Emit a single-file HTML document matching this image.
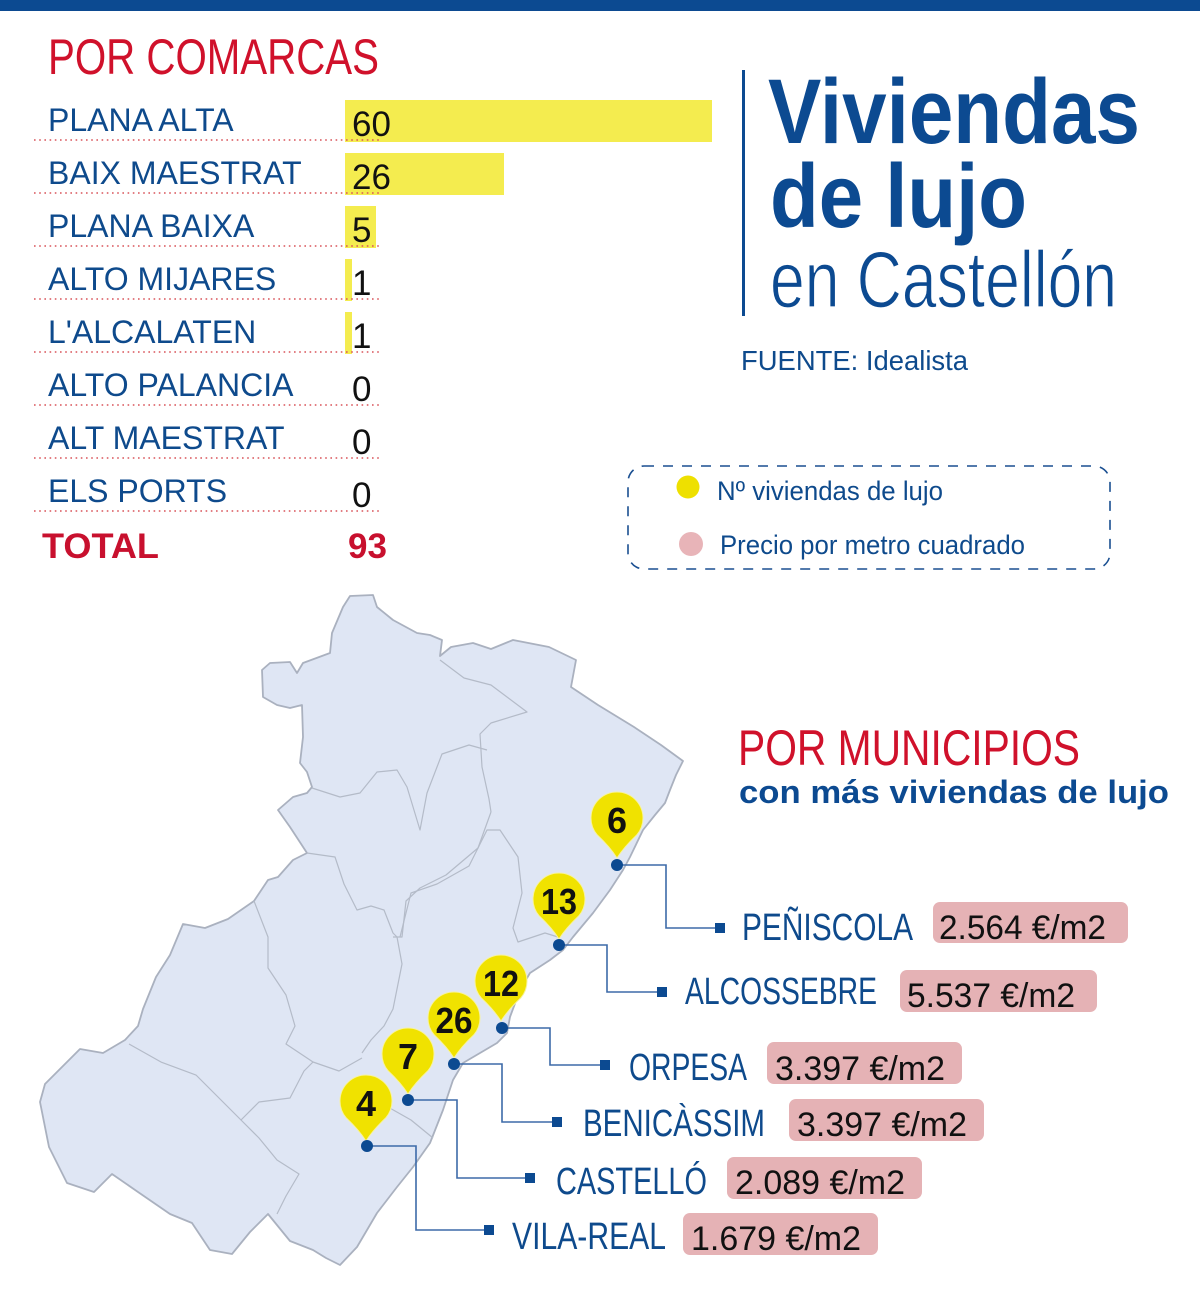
<!DOCTYPE html>
<html>
<head>
<meta charset="utf-8">
<style>
html,body{margin:0;padding:0;background:#fff;}
body{width:1200px;height:1293px;overflow:hidden;}
svg{display:block;}
text{font-family:"Liberation Sans",sans-serif;}
</style>
</head>
<body>
<svg width="1200" height="1293" viewBox="0 0 1200 1293" xmlns="http://www.w3.org/2000/svg">
  <!-- top band -->
  <rect x="0" y="0" width="1200" height="11" fill="#0c4a91"/>

  <!-- POR COMARCAS -->
  <text x="48" y="74" font-size="50" fill="#d0112b" textLength="331" lengthAdjust="spacingAndGlyphs">POR COMARCAS</text>

  <!-- bars -->
  <g fill="#f4ec4f">
    <rect x="345" y="100" width="367" height="42"/>
    <rect x="345" y="153" width="159" height="42"/>
    <rect x="345" y="206" width="31" height="42"/>
    <rect x="345" y="259" width="7" height="42"/>
    <rect x="345" y="312" width="7" height="42"/>
  </g>

  <!-- dotted lines -->
  <g stroke="#d9545a" stroke-width="1.6" stroke-dasharray="1.6 3.6">
    <line x1="34" y1="140" x2="382" y2="140"/>
    <line x1="34" y1="193" x2="382" y2="193"/>
    <line x1="34" y1="246" x2="382" y2="246"/>
    <line x1="34" y1="299" x2="382" y2="299"/>
    <line x1="34" y1="352" x2="382" y2="352"/>
    <line x1="34" y1="405" x2="382" y2="405"/>
    <line x1="34" y1="458" x2="382" y2="458"/>
    <line x1="34" y1="511" x2="382" y2="511"/>
  </g>

  <!-- row labels -->
  <g font-size="32" fill="#0e4a8c">
    <text x="48" y="131">PLANA ALTA</text>
    <text x="48" y="184">BAIX MAESTRAT</text>
    <text x="48" y="237">PLANA BAIXA</text>
    <text x="48" y="290">ALTO MIJARES</text>
    <text x="48" y="343">L'ALCALATEN</text>
    <text x="48" y="396">ALTO PALANCIA</text>
    <text x="48" y="449">ALT MAESTRAT</text>
    <text x="48" y="502">ELS PORTS</text>
  </g>
  <g font-size="35" fill="#111">
    <text x="352" y="136">60</text>
    <text x="352" y="189">26</text>
    <text x="352" y="242">5</text>
    <text x="352" y="295">1</text>
    <text x="352" y="348">1</text>
    <text x="352" y="401">0</text>
    <text x="352" y="454">0</text>
    <text x="352" y="507">0</text>
  </g>
  <text x="42" y="558" font-size="35" font-weight="bold" fill="#c8102e" textLength="117" lengthAdjust="spacingAndGlyphs">TOTAL</text>
  <text x="348" y="558" font-size="35" font-weight="bold" fill="#c8102e">93</text>

  <!-- Title -->
  <rect x="742" y="70" width="3" height="246" fill="#0c4a91"/>
  <text x="768" y="143" font-size="92" font-weight="bold" fill="#0c4a91" textLength="372" lengthAdjust="spacingAndGlyphs">Viviendas</text>
  <text x="770" y="227" font-size="90" font-weight="bold" fill="#0c4a91" textLength="257" lengthAdjust="spacingAndGlyphs">de lujo</text>
  <text x="770" y="307" font-size="80" fill="#0c4a91" stroke="#ffffff" stroke-width="1.2" textLength="347" lengthAdjust="spacingAndGlyphs">en Castellón</text>
  <text x="741" y="370" font-size="28" fill="#0e4a8c" textLength="227" lengthAdjust="spacingAndGlyphs">FUENTE: Idealista</text>

  <!-- Legend -->
  <rect x="628" y="466" width="482" height="103" rx="16" ry="16" fill="none" stroke="#1a4f91" stroke-width="1.6" stroke-dasharray="10 9"/>
  <circle cx="688" cy="487" r="11.5" fill="#eee000"/>
  <circle cx="691" cy="544" r="12" fill="#e8b4b8"/>
  <text x="717" y="500" font-size="27" fill="#0e4a8c" textLength="226" lengthAdjust="spacingAndGlyphs">Nº viviendas de lujo</text>
  <text x="720" y="554" font-size="27" fill="#0e4a8c" textLength="305" lengthAdjust="spacingAndGlyphs">Precio por metro cuadrado</text>

  <!-- Map -->
  <path d="M350,596 L373,595 L377,607 L393,620 L417,633 L430,635 L442,640 L440,656 L451,647 L473,643 L491,649 L513,640 L549,647 L576,660 L571,687 L598,705 L634,727 L661,745 L683,761 L676,775 L670,790 L665,803 L655,815 L643,830 L630,857 L623,870 L610,890 L593,913 L573,937 L563,950 L550,960 L530,973 L520,990 L510,1017 L507,1033 L497,1043 L480,1053 L463,1063 L453,1080 L443,1110 L430,1143 L413,1167 L397,1187 L377,1213 L357,1247 L340,1265 L326,1258 L313,1250 L290,1241 L268,1214 L250,1232 L232,1254 L210,1250 L192,1223 L170,1214 L138,1192 L112,1174 L94,1192 L67,1183 L49,1147 L40,1102 L45,1084 L58,1071 L80,1049 L103,1053 L125,1040 L138,1026 L143,1009 L156,977 L170,955 L183,924 L205,928 L228,919 L254,901 L268,880 L278,877 L293,860 L307,853 L290,827 L278,810 L293,797 L307,793 L312,787 L307,772 L300,763 L303,737 L302,705 L290,708 L277,705 L263,697 L262,670 L270,663 L290,662 L297,673 L303,663 L330,653 L332,633 L343,607 Z" fill="#dfe6f4" stroke="#aab1bf" stroke-width="1.8" stroke-linejoin="round"/>
  <g fill="none" stroke="#b4bbc8" stroke-width="1.2" stroke-linejoin="round">
    <polyline points="440,660 464,678 491,685 527,712 491,723 480,734 482,767 489,799 491,812"/>
    <polyline points="491,812 478,848 446,875 420,888 406,901 402,937 393,937"/>
    <polyline points="312,788 340,797 360,793 377,772 397,770 407,787 420,830 427,793 442,754 469,745 487,750"/>
    <polyline points="307,853 335,857 344,884 357,910 371,906 384,910 393,933 397,937"/>
    <polyline points="397,937 402,964 393,1009 384,1026 371,1040 362,1053"/>
    <polyline points="400,937 411,893 437,884 469,866 487,830 500,830 518,857 522,893 513,928 518,942 545,933 558,937"/>
    <polyline points="254,901 268,937 268,968 286,995 295,1026 286,1044 313,1062 339,1071 362,1058"/>
    <polyline points="129,1044 161,1062 196,1075 214,1093 228,1107 241,1120 259,1102 290,1098 304,1071 313,1062"/>
    <polyline points="241,1120 259,1138 277,1160 299,1174 286,1196 277,1214"/>
    <polyline points="388,1107 411,1120 433,1138"/>
  </g>

  <!-- connectors -->
  <g fill="none" stroke="#3d6aa8" stroke-width="1.6">
    <polyline points="617,865 666,865 666,928 720,928"/>
    <polyline points="559,945 607,945 607,992 662,992"/>
    <polyline points="502,1028 550,1028 550,1065 605,1065"/>
    <polyline points="454,1064 502,1064 502,1122 557,1122"/>
    <polyline points="408,1100 457,1100 457,1178 530,1178"/>
    <polyline points="367,1146 416,1146 416,1230 489,1230"/>
  </g>
  <g fill="#0c4a91">
    <rect x="715" y="923" width="10" height="10"/>
    <rect x="657" y="987" width="10" height="10"/>
    <rect x="600" y="1060" width="10" height="10"/>
    <rect x="552" y="1117" width="10" height="10"/>
    <rect x="525" y="1173" width="10" height="10"/>
    <rect x="484" y="1225" width="10" height="10"/>
  </g>

  <!-- pins -->
  <g>
    <g transform="translate(617,818)">
      <path d="M0,40 Q-7,29 -19.8,16.9 A26,26 0 1 1 19.8,16.9 Q7,29 0,40 Z" fill="#f0e200" stroke="#f7f3a0" stroke-width="1"/>
      <text x="0" y="15" font-size="36" font-weight="bold" fill="#111" text-anchor="middle">6</text>
    </g>
    <g transform="translate(559,899)">
      <path d="M0,40 Q-7,29 -19.8,16.9 A26,26 0 1 1 19.8,16.9 Q7,29 0,40 Z" fill="#f0e200" stroke="#f7f3a0" stroke-width="1"/>
      <text x="0" y="15" font-size="36" font-weight="bold" fill="#111" text-anchor="middle" textLength="36" lengthAdjust="spacingAndGlyphs">13</text>
    </g>
    <g transform="translate(501,981)">
      <path d="M0,40 Q-7,29 -19.8,16.9 A26,26 0 1 1 19.8,16.9 Q7,29 0,40 Z" fill="#f0e200" stroke="#f7f3a0" stroke-width="1"/>
      <text x="0" y="15" font-size="36" font-weight="bold" fill="#111" text-anchor="middle" textLength="36" lengthAdjust="spacingAndGlyphs">12</text>
    </g>
    <g transform="translate(454,1018)">
      <path d="M0,40 Q-7,29 -19.8,16.9 A26,26 0 1 1 19.8,16.9 Q7,29 0,40 Z" fill="#f0e200" stroke="#f7f3a0" stroke-width="1"/>
      <text x="0" y="15" font-size="36" font-weight="bold" fill="#111" text-anchor="middle" textLength="37" lengthAdjust="spacingAndGlyphs">26</text>
    </g>
    <g transform="translate(408,1054)">
      <path d="M0,40 Q-7,29 -19.8,16.9 A26,26 0 1 1 19.8,16.9 Q7,29 0,40 Z" fill="#f0e200" stroke="#f7f3a0" stroke-width="1"/>
      <text x="0" y="15" font-size="36" font-weight="bold" fill="#111" text-anchor="middle">7</text>
    </g>
    <g transform="translate(366,1101)">
      <path d="M0,40 Q-7,29 -19.8,16.9 A26,26 0 1 1 19.8,16.9 Q7,29 0,40 Z" fill="#f0e200" stroke="#f7f3a0" stroke-width="1"/>
      <text x="0" y="15" font-size="36" font-weight="bold" fill="#111" text-anchor="middle">4</text>
    </g>
  </g>
  <g fill="#0c4a91">
    <circle cx="617" cy="865" r="6"/>
    <circle cx="559" cy="945" r="6"/>
    <circle cx="502" cy="1028" r="6"/>
    <circle cx="454" cy="1064" r="6"/>
    <circle cx="408" cy="1100" r="6"/>
    <circle cx="367" cy="1146" r="6"/>
  </g>

  <!-- POR MUNICIPIOS -->
  <text x="738" y="765" font-size="50" fill="#d0112b" textLength="342" lengthAdjust="spacingAndGlyphs">POR MUNICIPIOS</text>
  <text x="739" y="803" font-size="32" font-weight="bold" fill="#0c4a91" textLength="430" lengthAdjust="spacingAndGlyphs">con más viviendas de lujo</text>

  <!-- municipality labels -->
  <g font-size="38" fill="#0e4a8c">
    <text x="742" y="940" textLength="171" lengthAdjust="spacingAndGlyphs">PEÑISCOLA</text>
    <text x="685" y="1004" textLength="192" lengthAdjust="spacingAndGlyphs">ALCOSSEBRE</text>
    <text x="629" y="1080" textLength="118" lengthAdjust="spacingAndGlyphs">ORPESA</text>
    <text x="583" y="1136" textLength="182" lengthAdjust="spacingAndGlyphs">BENICÀSSIM</text>
    <text x="556" y="1194" textLength="151" lengthAdjust="spacingAndGlyphs">CASTELLÓ</text>
    <text x="512" y="1249" textLength="154" lengthAdjust="spacingAndGlyphs">VILA-REAL</text>
  </g>

  <!-- price boxes -->
  <g fill="#e5b2b5">
    <rect x="933" y="902" width="195" height="41" rx="7"/>
    <rect x="900" y="970" width="197" height="42" rx="7"/>
    <rect x="767" y="1042" width="195" height="42" rx="7"/>
    <rect x="789" y="1099" width="195" height="42" rx="7"/>
    <rect x="727" y="1157" width="195" height="42" rx="7"/>
    <rect x="683" y="1213" width="195" height="42" rx="7"/>
  </g>
  <g font-size="34" fill="#111">
    <text x="939" y="939" textLength="167" lengthAdjust="spacingAndGlyphs">2.564 €/m2</text>
    <text x="907" y="1007" textLength="168" lengthAdjust="spacingAndGlyphs">5.537 €/m2</text>
    <text x="775" y="1080" textLength="170" lengthAdjust="spacingAndGlyphs">3.397 €/m2</text>
    <text x="797" y="1136" textLength="170" lengthAdjust="spacingAndGlyphs">3.397 €/m2</text>
    <text x="735" y="1194" textLength="170" lengthAdjust="spacingAndGlyphs">2.089 €/m2</text>
    <text x="691" y="1250" textLength="170" lengthAdjust="spacingAndGlyphs">1.679 €/m2</text>
  </g>
</svg>
</body>
</html>
